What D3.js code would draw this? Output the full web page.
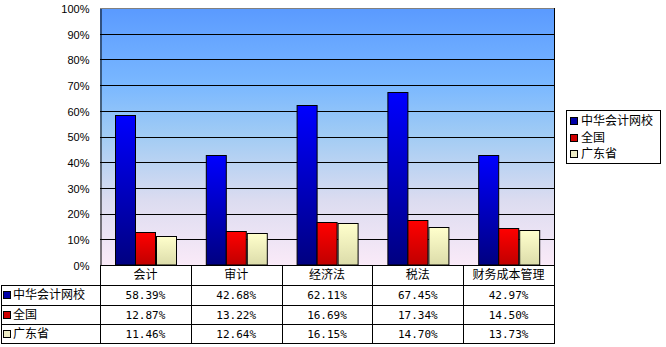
<!DOCTYPE html>
<html>
<head>
	<meta charset="utf-8">
	<title>chart</title>
	<style>
	body { margin: 0; background: #fff; }
	.tick-label { font-family: "Liberation Sans", Arial, sans-serif; font-size: 11px; fill: #000; }
	.cjk { font-family: "Noto Sans CJK SC", sans-serif; font-size: 12px; fill: #000; }
	.num { font-family: "DejaVu Sans Mono", monospace; font-size: 11px; fill: #000; }
	</style>
	<script src="https://d3js.org/d3.v7.min.js"></script>
</head>
<body>
	<script type="text/javascript">
		var categories = ['会计', '审计', '经济法', '税法', '财务成本管理'];
		var seriesNames = ['中华会计网校', '全国', '广东省'];
		var wangxiao = [58.39, 42.68, 62.11, 67.45, 42.97];
		var quanguo = [12.87, 13.22, 16.69, 17.34, 14.50];
		var guangdong = [11.46, 12.64, 16.15, 14.70, 13.73];
		var yTicks = [0, 10, 20, 30, 40, 50, 60, 70, 80, 90, 100];

		var seriesValues = [wangxiao, quanguo, guangdong];
		// 柱子渐变（上 -> 下）与图例色块
		var barTop = ['#0000ff', '#ff0000', '#ffffcc'];
		var barBottom = ['#000080', '#c00000', '#dcdcaa'];
		var swatch = ['#0000a8', '#d00000', '#ecebc4'];

		var svgWidth = 666, svgHeight = 347;
		var plotLeft = 100, plotRight = 554, plotTop = 8, plotBottom = 265;
		var rowTops = [265, 285, 305, 324, 343];

		var svg = d3.select('body').append('svg')
			.attr('width', svgWidth)
			.attr('height', svgHeight);

		var defs = svg.append('defs');

		// 绘图区背景渐变
		var bg = defs.append('linearGradient')
			.attr('id', 'bg').attr('x1', 0).attr('y1', 0).attr('x2', 0).attr('y2', 1);
		[[0, '#5a9aff'], [0.3, '#7ab8ff'], [0.5, '#a2ccf4'], [0.75, '#dcdcf0'], [1, '#faeaf8']]
			.forEach(function (s) {
				bg.append('stop').attr('offset', s[0]).attr('stop-color', s[1]);
			});

		seriesNames.forEach(function (n, i) {
			var g = defs.append('linearGradient')
				.attr('id', 'bar' + i).attr('x1', 0).attr('y1', 0).attr('x2', 0).attr('y2', 1);
			g.append('stop').attr('offset', 0).attr('stop-color', barTop[i]);
			g.append('stop').attr('offset', 1).attr('stop-color', barBottom[i]);
		});

		var x0 = d3.scaleBand().domain(categories).range([plotLeft, plotRight]);
		var x1 = d3.scaleBand().domain(d3.range(seriesNames.length))
			.range([0, x0.bandwidth()]).paddingInner(0).paddingOuter(0.72);
		var y = d3.scaleLinear().domain([0, 100]).range([plotBottom, plotTop]);

		svg.append('rect')
			.attr('x', plotLeft).attr('y', plotTop)
			.attr('width', plotRight - plotLeft).attr('height', plotBottom - plotTop)
			.attr('fill', 'url(#bg)');

		// 网格线
		svg.append('g').selectAll('line')
			.data(yTicks.filter(function (d) { return d > 0 && d < 100; }))
			.enter().append('line')
			.attr('x1', plotLeft).attr('x2', plotRight)
			.attr('y1', function (d) { return Math.round(y(d)) + 0.5; })
			.attr('y2', function (d) { return Math.round(y(d)) + 0.5; })
			.attr('stroke', '#000').attr('stroke-width', 1);

		// 边框（上、右灰色）
		svg.append('path')
			.attr('d', 'M' + plotLeft + ',' + (plotTop + 0.5) + 'H' + (plotRight + 0.5) + 'V' + plotBottom)
			.attr('fill', 'none').attr('stroke', '#808080');

		// Y 轴
		var yAxis = d3.axisLeft(y).tickValues(yTicks)
			.tickFormat(function (d) { return d + '%'; })
			.tickSizeInner(0).tickSizeOuter(0).tickPadding(11);
		var ya = svg.append('g')
			.attr('transform', 'translate(' + (plotLeft + 0.5) + ',0.5)')
			.call(yAxis);
		ya.select('.domain').attr('stroke', '#000');
		ya.selectAll('.tick text').attr('class', 'tick-label').attr('dy', '0.35em');

		// 柱子
		var groups = svg.append('g').selectAll('g')
			.data(categories).enter().append('g')
			.attr('transform', function (d) { return 'translate(' + x0(d) + ',0)'; });
		groups.selectAll('rect')
			.data(function (d, ci) {
				return seriesValues.map(function (vals, si) { return { s: si, v: vals[ci] }; });
			})
			.enter().append('rect')
			.attr('x', function (d) { return Math.round(x1(d.s)) + 0.5; })
			.attr('y', function (d) { return Math.round(y(d.v)) + 0.5; })
			.attr('width', Math.round(x1.bandwidth()))
			.attr('height', function (d) { return plotBottom - Math.round(y(d.v)) - 0.5; })
			.attr('fill', function (d) { return 'url(#bar' + d.s + ')'; })
			.attr('stroke', '#000').attr('stroke-width', 1);

		// 数据表
		var table = svg.append('g');
		var hline = function (yy, xa, xb) {
			table.append('line').attr('x1', xa).attr('x2', xb)
				.attr('y1', yy + 0.5).attr('y2', yy + 0.5).attr('stroke', '#000');
		};
		var vline = function (xx, ya1, yb) {
			table.append('line').attr('x1', xx + 0.5).attr('x2', xx + 0.5)
				.attr('y1', ya1).attr('y2', yb).attr('stroke', '#000');
		};
		hline(rowTops[0], plotLeft, plotRight + 1);
		rowTops.slice(1).forEach(function (r) { hline(r, 1, plotRight + 1); });
		vline(1, rowTops[1], rowTops[4] + 1);
		categories.forEach(function (c) { vline(Math.round(x0(c)), rowTops[0], rowTops[4] + 1); });
		vline(plotRight, plotTop, rowTops[4] + 1);

		table.selectAll('text.head')
			.data(categories).enter().append('text')
			.attr('class', 'cjk')
			.attr('x', function (d) { return x0(d) + x0.bandwidth() / 2; })
			.attr('y', (rowTops[0] + rowTops[1]) / 2 + 1)
			.attr('text-anchor', 'middle').attr('dominant-baseline', 'middle')
			.text(function (d) { return d; });

		seriesNames.forEach(function (name, si) {
			var cy = (rowTops[si + 1] + rowTops[si + 2]) / 2 + 1;
			table.append('rect')
				.attr('x', 3.5).attr('y', Math.round(cy) - 4.5)
				.attr('width', 7).attr('height', 7)
				.attr('fill', swatch[si]).attr('stroke', '#000');
			table.append('text').attr('class', 'cjk')
				.attr('x', 13).attr('y', cy)
				.attr('dominant-baseline', 'middle')
				.text(name);
			table.selectAll(null)
				.data(seriesValues[si]).enter().append('text')
				.attr('class', 'num')
				.attr('x', function (d, ci) { return x0(categories[ci]) + x0.bandwidth() / 2; })
				.attr('y', cy)
				.attr('text-anchor', 'middle').attr('dominant-baseline', 'middle')
				.text(function (d) { return d.toFixed(2) + '%'; });
		});

		// 图例
		var legend = svg.append('g');
		legend.append('rect')
			.attr('x', 566.5).attr('y', 110.5).attr('width', 94).attr('height', 53)
			.attr('fill', '#fff').attr('stroke', '#000');
		seriesNames.forEach(function (name, si) {
			var cy = 121 + si * 16.5;
			legend.append('rect')
				.attr('x', 570.5).attr('y', Math.round(cy) - 3.5)
				.attr('width', 7).attr('height', 7)
				.attr('fill', swatch[si]).attr('stroke', '#000');
			legend.append('text').attr('class', 'cjk')
				.attr('x', 581).attr('y', cy + 1)
				.attr('dominant-baseline', 'middle')
				.text(name);
		});
	</script>
</body>
</html>
